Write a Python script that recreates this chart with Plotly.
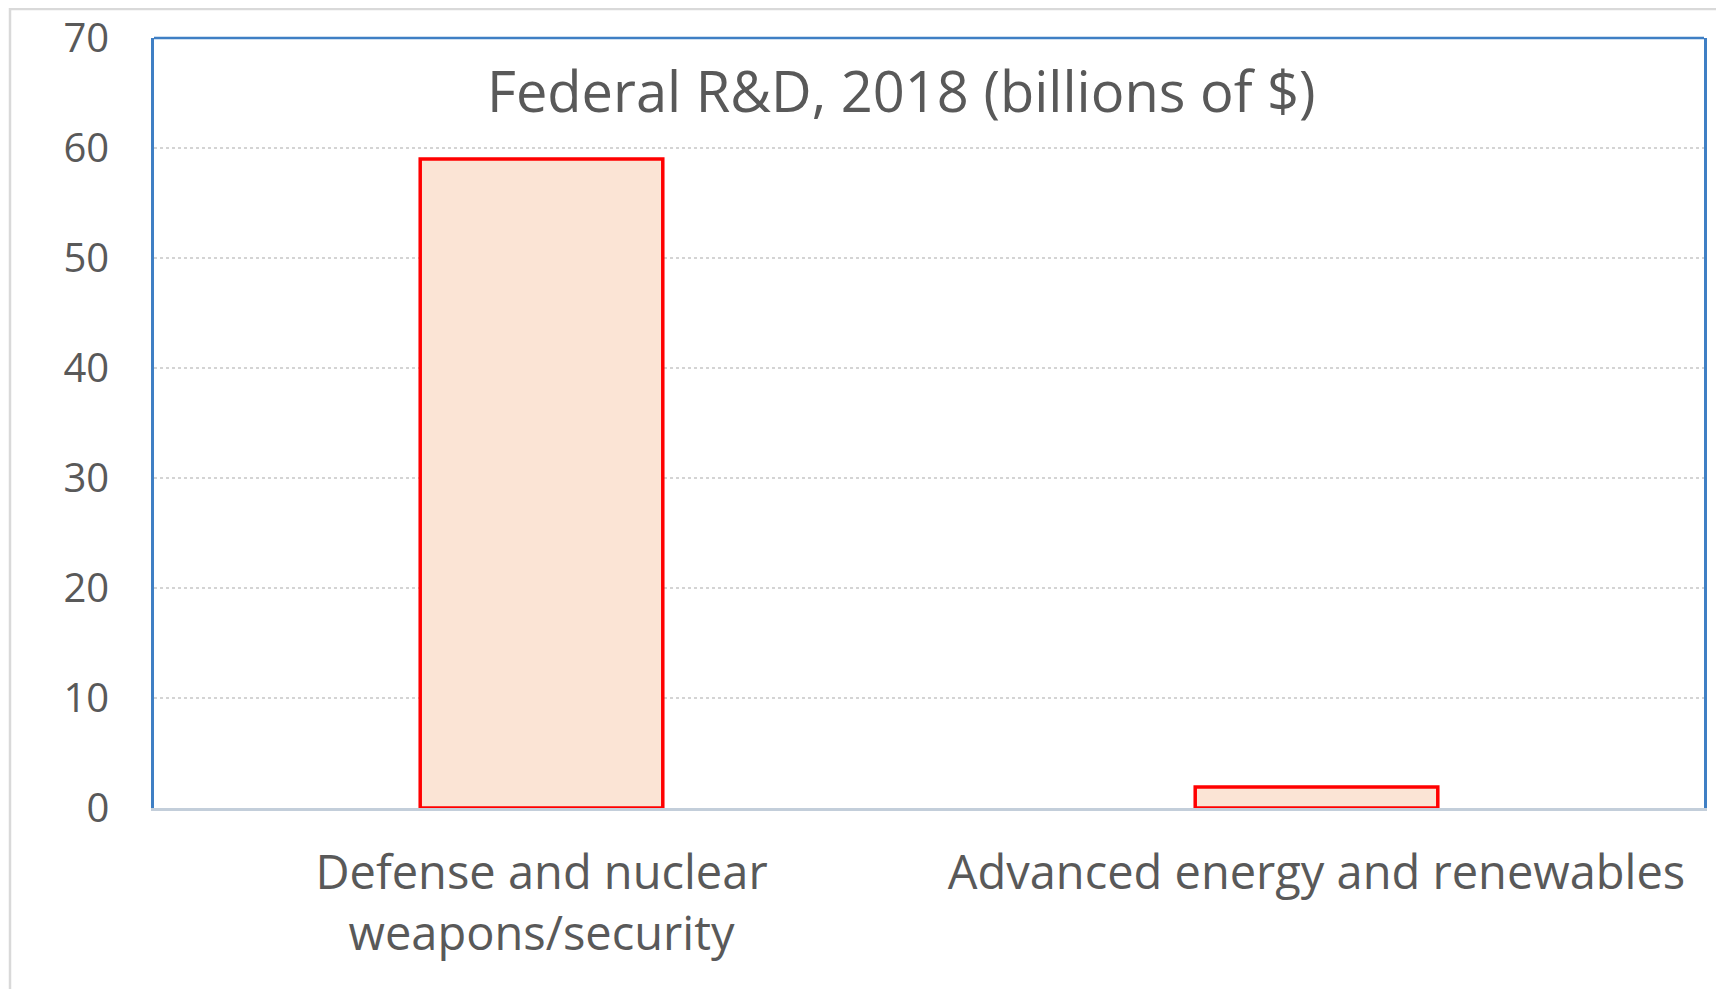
import plotly.graph_objects as go

categories = ["Defense and nuclear<br>weapons/security", "Advanced energy and renewables"]
values = [59.0, 1.9]
y_ticks = [0, 10, 20, 30, 40, 50, 60, 70]
title_text = "Federal R&D, 2018 (billions of $)"

FONT = "Open Sans"
W, H = 1724, 989
OFF = 8  # page body margin
# target screen geometry of the plot area
PL, PR, PT, PB = 154, 1704, 38, 808
L, T = PL - OFF, PT - OFF
R = W - (PR - OFF)
B = H - (PB - OFF)
PW, PH = PR - PL, PB - PT

def px(xs):
    return (xs - PL) / PW

def py(ys):
    return (PB - ys) / PH

fig = go.Figure()
fig.add_trace(go.Bar(
    x=categories, y=values,
    marker=dict(color="#fbe4d5", line=dict(color="#ff0000", width=3.5)),
    width=0.313,
))

fig.update_layout(
    width=W, height=H,
    margin=dict(l=L, r=R, t=T, b=B, pad=0),
    paper_bgcolor="white", plot_bgcolor="white",
    showlegend=False,
    font=dict(family=FONT, color="#595959"),
    xaxis=dict(
        automargin=False,
        showline=True, linecolor="#c3ceda", linewidth=2.5,
        showgrid=False, ticks="",
        tickfont=dict(size=47, family=FONT, color="#595959"),
        ticklabelstandoff=22,
    ),
    yaxis=dict(
        automargin=False,
        range=[0, 70], tickvals=y_ticks,
        showline=True, mirror=True, linecolor="#3f7fc4", linewidth=2.5,
        showgrid=True, gridcolor="#d4d4d4", griddash="dot", gridwidth=1.5,
        zeroline=False, ticks="",
        tickfont=dict(size=40, family=FONT, color="#595959"),
        ticklabelstandoff=34,
    ),
)

# top border of plot area
fig.add_shape(type="line", xref="paper", yref="paper", x0=0, x1=1, y0=1, y1=1,
              line=dict(color="#3f7fc4", width=2.5))

# outer chart frame
fig.add_shape(type="rect", xref="paper", yref="paper",
              x0=px(10), x1=px(W + 40),
              y0=py(H + 40), y1=py(9),
              line=dict(color="#d9d9d9", width=2.5), layer="below")

fig.add_annotation(text=title_text, xref="paper", yref="paper",
                   x=px(901), y=py(90),
                   xanchor="center", yanchor="middle", showarrow=False,
                   font=dict(size=56, family=FONT, color="#595959"))

fig.write_html("out.html")
